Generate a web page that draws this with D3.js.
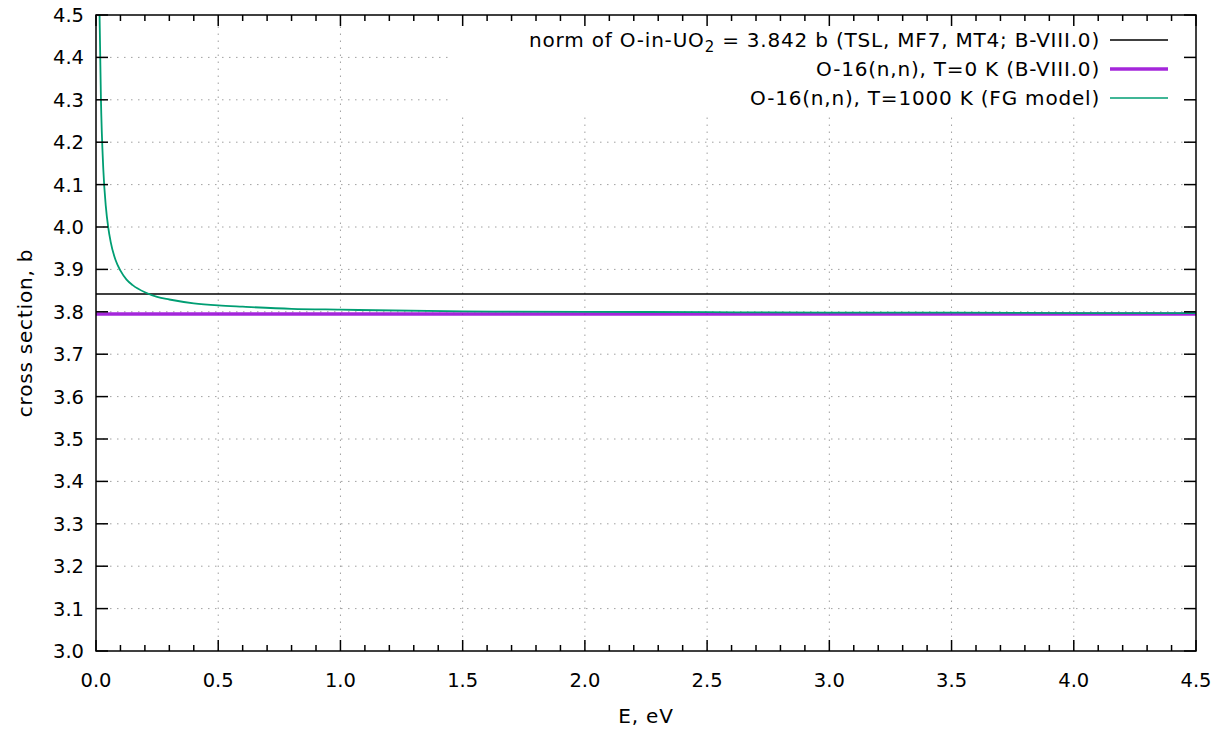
<!DOCTYPE html>
<html><head><meta charset="utf-8">
<script src="https://cdn.jsdelivr.net/npm/d3@7"></script>
<style>
body{margin:0;background:#fff;}
text{font-family:"DejaVu Sans",sans-serif;fill:#000;}
</style></head>
<body><svg id="c" width="1214" height="736"></svg>
<script>
const xTicks=[0.0,0.5,1.0,1.5,2.0,2.5,3.0,3.5,4.0,4.5];
const yTicks=[3.0,3.1,3.2,3.3,3.4,3.5,3.6,3.7,3.8,3.9,4.0,4.1,4.2,4.3,4.4,4.5];
const normValue=3.842;
const t0Value=3.7946;
const fgE=[0.014,0.02,0.03,0.04,0.05,0.06,0.08,0.1,0.125,0.15,0.2,0.25,0.3,0.4,0.5,0.6,0.8,1.0,1.5,2.0,2.5,3.0,3.5,4.0,4.5];
const fgS=[4.52,4.307,4.135,4.050,3.999,3.965,3.922,3.897,3.876,3.863,3.846,3.835,3.829,3.820,3.815,3.812,3.807,3.805,3.801,3.800,3.799,3.798,3.798,3.797,3.797];
const legendLabels=["norm of O-in-UO|2| = 3.842 b (TSL, MF7, MT4; B-VIII.0)","O-16(n,n), T=0 K (B-VIII.0)","O-16(n,n), T=1000 K (FG model)"];
const colors=["#000000","#9400d3","#009e73"];

const svg=d3.select("#c");
const L=96,R=1196,T=15,B=651;
const x=d3.scaleLinear().domain([0,4.5]).range([L,R]);
const y=d3.scaleLinear().domain([3.0,4.5]).range([B,T]);
const fs=20, fsTick=19.5, ls="0.8px";

// grid
const g=svg.append("g");
g.selectAll("line.gx").data(xTicks.slice(1,-1)).join("line")
 .attr("x1",d=>x(d)).attr("x2",d=>x(d)).attr("y1",B).attr("y2",T)
 .attr("stroke","#a0a0a0").attr("stroke-width",1).attr("stroke-dasharray","1.5,5.5");
g.selectAll("line.gy").data(yTicks.slice(1,-1)).join("line")
 .attr("x1",L).attr("x2",R).attr("y1",d=>y(d)).attr("y2",d=>y(d))
 .attr("stroke","#a0a0a0").attr("stroke-width",1).attr("stroke-dasharray","1.5,5.5");

// legend background
svg.append("rect").attr("x",450).attr("y",T+1).attr("width",R-450-1).attr("height",97).attr("fill","#fff");

svg.append("clipPath").attr("id","pc").append("rect").attr("x",L).attr("y",T).attr("width",R-L).attr("height",B-T);
const pg=svg.append("g").attr("clip-path","url(#pc)");
pg.append("line").attr("x1",x(0)).attr("x2",x(4.5)).attr("y1",y(normValue)).attr("y2",y(normValue)).attr("stroke",colors[0]).attr("stroke-width",1.5);
pg.append("line").attr("x1",x(0)).attr("x2",x(4.5)).attr("y1",y(t0Value)).attr("y2",y(t0Value)).attr("stroke",colors[1]).attr("stroke-width",3.5).attr("stroke-opacity",0.85);
const pts=fgE.map((e,i)=>[e,fgS[i]]);
pg.append("path").datum(pts).attr("d",d3.line().x(d=>x(d[0])).y(d=>y(d[1])).curve(d3.curveMonotoneX))
 .attr("fill","none").attr("stroke",colors[2]).attr("stroke-width",1.8);

// axes
const ax=svg.append("g").attr("stroke","#000").attr("stroke-width",1.5);
const minorX=d3.range(0,46).map(i=>i/10);
minorX.forEach(v=>{
  const major=Math.abs(v*2-Math.round(v*2))<1e-6;
  const len=major?11:6;
  ax.append("line").attr("x1",x(v)).attr("x2",x(v)).attr("y1",B).attr("y2",B-len);
  ax.append("line").attr("x1",x(v)).attr("x2",x(v)).attr("y1",T).attr("y2",T+len);
});
yTicks.forEach(v=>{
  ax.append("line").attr("x1",L).attr("x2",L+12).attr("y1",y(v)).attr("y2",y(v));
  ax.append("line").attr("x1",R).attr("x2",R-12).attr("y1",y(v)).attr("y2",y(v));
});
svg.append("rect").attr("x",L).attr("y",T).attr("width",R-L).attr("height",B-T).attr("fill","none").attr("stroke","#000").attr("stroke-width",1.5);

// tick labels
svg.append("g").selectAll("text").data(xTicks).join("text")
 .attr("x",d=>x(d)).attr("y",687).attr("text-anchor","middle").attr("font-size",fsTick)
 .text(d=>d3.format(".1f")(d));
svg.append("g").selectAll("text").data(yTicks).join("text")
 .attr("x",84).attr("y",d=>y(d)+7).attr("text-anchor","end").attr("font-size",fsTick)
 .text(d=>d3.format(".1f")(d));

svg.append("text").attr("x",x(2.25)).attr("y",723).attr("text-anchor","middle").attr("font-size",fs).attr("letter-spacing",ls).text("E, eV");
svg.append("text").attr("transform","translate(32,"+((T+B)/2)+") rotate(-90)").attr("text-anchor","middle").attr("font-size",fs).attr("letter-spacing",ls).text("cross section, b");

// legend
const rowsY=[40,69,98];
legendLabels.forEach((lab,i)=>{
  const t=svg.append("text").attr("x",1100).attr("y",rowsY[i]+7).attr("text-anchor","end").attr("font-size",fs).attr("letter-spacing",ls);
  const parts=lab.split("|");
  parts.forEach((p,j)=>{
    const ts=t.append("tspan").text(p);
    if(j===1){ts.attr("dy",5).attr("font-size",fs*0.75);}
    if(j===2){ts.attr("dy",-5);}
  });
  svg.append("line").attr("x1",1110).attr("x2",1168).attr("y1",rowsY[i]).attr("y2",rowsY[i])
   .attr("stroke",colors[i]).attr("stroke-width",i===1?3.5:1.5).attr("stroke-opacity",i===1?0.85:1);
});
</script></body></html>
